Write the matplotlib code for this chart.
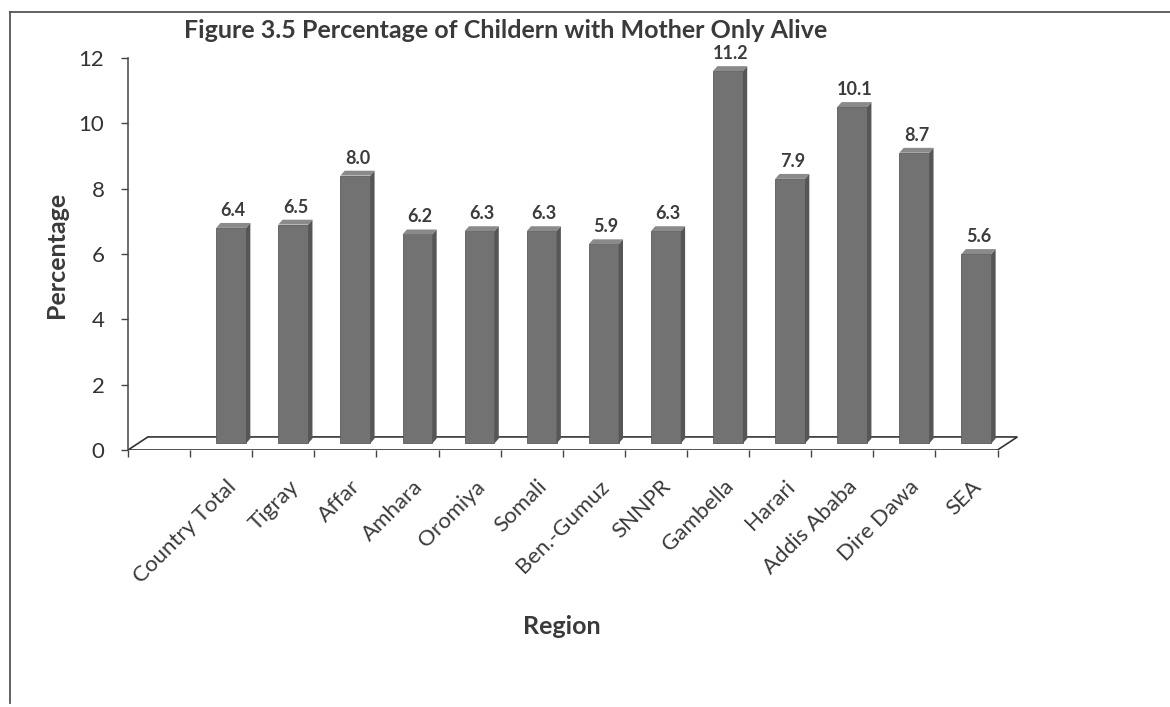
import matplotlib.pyplot as plt
import numpy as np
from matplotlib.patches import Polygon

plt.rcParams['font.family'] = ['Lato', 'DejaVu Sans']

# data
regions = ["Country Total", "Tigray", "Affar", "Amhara", "Oromiya", "Somali",
           "Ben.-Gumuz", "SNNPR", "Gambella", "Harari", "Addis Ababa",
           "Dire Dawa", "SEA"]
percent = [6.4, 6.5, 8.0, 6.2, 6.3, 6.3, 5.9, 6.3, 11.2, 7.9, 10.1, 8.7, 5.6]
y_ticks = [0, 2, 4, 6, 8, 10, 12]

# fake 3d look (excel style floor)
depth_x = 0.32
depth_y = 0.4
bar_w = 0.48
n_slots = len(regions) + 1

fig = plt.figure(figsize=(11.7, 7.07), dpi=100)
ax = fig.add_axes([128 / 1170, 1 - 450 / 707, 890 / 1170, 392 / 707])

vals = np.array(percent)
slot = np.arange(len(regions)) + 1.5
xpos = slot + depth_x / 2

# floor
floor = Polygon([(0, 0), (depth_x, depth_y), (n_slots + depth_x, depth_y), (n_slots, 0)],
                closed=True, facecolor='white', edgecolor='#333333', lw=1.2, zorder=1)
ax.add_patch(floor)

# bars: front face, side and top
ax.bar(xpos, vals + depth_y / 2, bottom=depth_y / 2, width=bar_w,
       color='#727272', edgecolor='#5a5a5a', lw=0.6, zorder=3)
sx, sy = 0.07, 0.15
for x, v in zip(xpos, vals):
    top = v + depth_y
    r = x + bar_w / 2
    l = x - bar_w / 2
    ax.add_patch(Polygon([(r, depth_y / 2), (r + sx, depth_y / 2 + sy), (r + sx, top + sy), (r, top)],
                         closed=True, facecolor='#565656', edgecolor='none', zorder=3))
    ax.add_patch(Polygon([(l, top), (l + sx, top + sy), (r + sx, top + sy), (r, top)],
                         closed=True, facecolor='#8a8a8a', edgecolor='none', zorder=3))
    ax.annotate(f"{v:.1f}", (x + sx / 2, top + sy), xytext=(0, 3), textcoords='offset points',
                ha='center', va='bottom', fontsize=13, fontweight='bold', color='#3c3c3c')

ax.set_xlim(0, n_slots + depth_x + 0.01)
ax.set_ylim(0, 12)

# axes styling
for s in ['top', 'right', 'bottom']:
    ax.spines[s].set_visible(False)
ax.spines['left'].set_color('#444444')
ax.spines['left'].set_linewidth(1.1)

ax.set_yticks(y_ticks)
ax.tick_params(axis='y', length=5, width=1, color='#444444', pad=12,
               labelsize=16, labelcolor='#333333')

ax.set_xticks(slot + 0.08)
ax.set_xticklabels(regions, rotation=45, ha='right', rotation_mode='anchor',
                   fontsize=16, color='#3a3a3a')
ax.tick_params(axis='x', length=0, pad=19)
ax.set_xticks(np.arange(n_slots + 1), minor=True)
ax.tick_params(axis='x', which='minor', length=5, width=1, color='#444444')

fig.text(506 / 1170, 1 - 30 / 707, "Figure 3.5 Percentage of Childern with Mother Only Alive",
         ha='center', va='center', fontsize=18, fontweight='bold', color='#3a3a3a')
fig.text(57 / 1170, 1 - 255 / 707, "Percentage", rotation=90, ha='center', va='center',
         fontsize=18, fontweight='bold', color='#3a3a3a')
fig.text(562 / 1170, 1 - 627 / 707, "Region", ha='center', va='center',
         fontsize=18, fontweight='bold', color='#3a3a3a')

# outer frame of the scanned chart
fig.add_artist(plt.Line2D([10 / 1170, 10 / 1170], [1 - 12 / 707, 1 - 703 / 707],
                          color='#555555', lw=1.3, transform=fig.transFigure))
fig.add_artist(plt.Line2D([10 / 1170, 1.0], [1 - 12 / 707, 1 - 12 / 707],
                          color='#555555', lw=1.3, transform=fig.transFigure))

fig.savefig('out.png', dpi=100)
